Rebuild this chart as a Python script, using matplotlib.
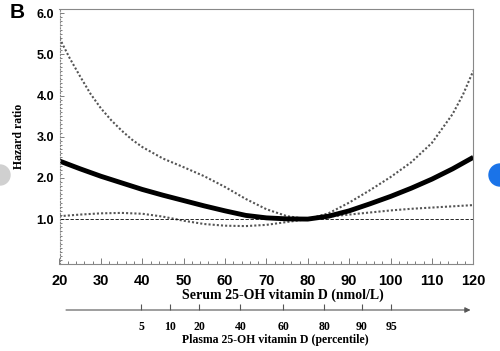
import numpy as np
import matplotlib.pyplot as plt
from matplotlib.ticker import MultipleLocator
from matplotlib.patches import Ellipse

# 血清 25-OH 維生素 D 與風險比
serum = [20, 25, 30, 35, 40, 45, 50, 55, 60, 65, 70, 75, 80, 85, 90, 95, 100, 105, 110, 115, 120]
hr = [2.41, 2.22, 2.04, 1.88, 1.72, 1.58, 1.45, 1.32, 1.20, 1.09, 1.03, 1.005, 1.00,
      1.07, 1.20, 1.37, 1.55, 1.75, 1.97, 2.22, 2.50]
hr_lower = [1.07, 1.11, 1.14, 1.15, 1.13, 1.06, 0.96, 0.88, 0.84, 0.83, 0.86, 0.93, 1.00,
            1.06, 1.11, 1.16, 1.21, 1.25, 1.28, 1.31, 1.34]

# 上界（陡峭處多取一些點）
serum_upper = [20, 22.5, 25, 27.5, 30, 32.5, 35, 37.5, 40, 45, 50, 55, 60, 65, 70, 75, 80,
               85, 90, 95, 100, 105, 110, 115, 117.5, 120]
hr_upper = [5.39, 4.90, 4.46, 4.04, 3.69, 3.40, 3.15, 2.93, 2.75, 2.47, 2.26, 2.04, 1.78,
            1.49, 1.24, 1.07, 1.00, 1.14, 1.40, 1.70, 2.02, 2.38, 2.85, 3.55, 4.02, 4.60]

# 百分位數刻度（對應血清值位置）
pct_labels = ['5', '10', '20', '40', '60', '80', '90', '95']
pct_serum = [39.7, 46.7, 53.7, 63.7, 74.1, 84.0, 93.1, 100.2]

W, H = 500, 351
fig = plt.figure(figsize=(5.0, 3.51), dpi=100)

l, r, t, b = 59.5, 473.3, 9, 264
ax = fig.add_axes([l / W, 1 - b / H, (r - l) / W, (b - t) / H])

ax.plot(serum_upper, hr_upper, color='#555555', linestyle=(0, (1, 1)), linewidth=1.5)
ax.plot(serum, hr_lower, color='#555555', linestyle=(0, (1, 1)), linewidth=1.5)
ax.axhline(1.0, color='black', linestyle=(0, (4, 2)), linewidth=0.6)
ax.plot(serum, hr, color='black', linewidth=3.5, solid_capstyle='butt')

ax.set_xlim(20, 120)
ax.set_ylim(-0.09, 6.1)
ax.set_xticks(range(20, 121, 10))
ax.set_yticks([1, 2, 3, 4, 5, 6])
ax.set_yticklabels(['1.0', '2.0', '3.0', '4.0', '5.0', '6.0'])
ax.xaxis.set_minor_locator(MultipleLocator(2))
ax.yaxis.set_minor_locator(MultipleLocator(0.1))
ax.tick_params(axis='x', which='both', direction='in', color='#666666', width=0.6, pad=7)
ax.tick_params(axis='x', which='major', length=4)
ax.tick_params(axis='x', which='minor', length=2)
ax.tick_params(axis='y', which='both', direction='in', color='#666666', width=0.6, pad=4)
ax.tick_params(axis='y', which='major', length=3)
ax.tick_params(axis='y', which='minor', length=1.5)
for lab in ax.get_xticklabels():
    lab.set_fontfamily('Liberation Sans')
    lab.set_fontweight('bold')
    lab.set_fontsize(10.5)
for lab in ax.get_yticklabels():
    lab.set_fontfamily('Liberation Sans')
    lab.set_fontweight('bold')
    lab.set_fontsize(9)
for s in ax.spines.values():
    s.set_color('#888888')
    s.set_linewidth(0.8)
ax.spines['left'].set_linestyle(':')

ax.set_ylabel('Hazard ratio', fontfamily='Liberation Serif', fontweight='bold', fontsize=8.5, labelpad=8)
fig.text(283 / W, 1 - 295 / H, 'Serum 25-OH vitamin D (nmol/L)', ha='center', va='center',
         fontfamily='Liberation Serif', fontweight='bold', fontsize=10)

# 第二條軸：百分位數
y_line = 310
ax2 = fig.add_axes([l / W, 1 - y_line / H, (r - l) / W, 0.001])
ax2.set_xlim(20, 120)
ax2.set_ylim(0, 1)
ax2.set_yticks([])
for s in ax2.spines.values():
    s.set_visible(False)
ax2.set_xticks(pct_serum)
ax2.set_xticklabels(pct_labels, fontfamily='Liberation Serif', fontweight='bold', fontsize=8.5)
ax2.tick_params(axis='x', direction='in', length=4, width=0.8, color='#555555', pad=8)
ax2.annotate('', xy=(120, 0), xytext=(20.9, 0), xycoords='data', textcoords='data',
             arrowprops=dict(arrowstyle='-|>', color='#555555', lw=0.8, mutation_scale=8),
             annotation_clip=False)
fig.text(275 / W, 1 - 340 / H, 'Plasma 25-OH vitamin D (percentile)', ha='center', va='center',
         fontfamily='Liberation Serif', fontweight='bold', fontsize=8.5)

fig.text(10 / W, 1 - 13 / H, 'B', ha='left', va='center', fontfamily='Liberation Sans',
         fontweight='bold', fontsize=15)

# 頁面左右的導覽按鈕
fig.patches.append(Ellipse((0 / W, 1 - 175 / H), 20 / W, 20 / H, transform=fig.transFigure,
                           color='#d0d0d0', zorder=0))
fig.patches.append(Ellipse((500 / W, 1 - 175 / H), 22 / W, 22 / H, transform=fig.transFigure,
                           color='#1a73e8', zorder=0))

fig.savefig('out.png', dpi=100)
